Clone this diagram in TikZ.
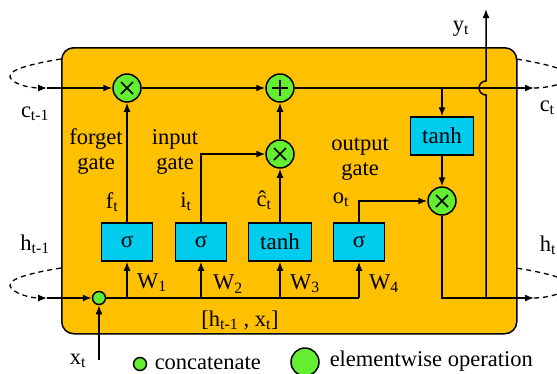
\documentclass[tikz,border=0pt]{standalone}
\usepackage{fontspec}
\setmainfont{Liberation Serif}
\usetikzlibrary{arrows.meta}
\definecolor{boxorange}{RGB}{255,192,0}
\definecolor{gatecyan}{RGB}{0,204,238}
\definecolor{opgreen}{RGB}{100,238,50}
\newcommand{\sbs}[1]{\textsubscript{#1}}
\begin{document}
\begin{tikzpicture}[x=1pt,y=-1pt, line width=1.5pt,
 arr/.style={-{Latex[length=9pt,width=7pt]}},
 gatebox/.style={draw, fill=gatecyan, minimum width=51pt, minimum height=38pt, inner sep=0pt, font=\fontsize{23}{25}\selectfont},
 op/.style={draw, fill=opgreen, circle, minimum size=28pt, inner sep=0pt},
 mul/.style={op, path picture={
   \draw[line width=1.6pt] ([shift={(-6pt,-6pt)}]path picture bounding box.center) -- ([shift={(6pt,6pt)}]path picture bounding box.center);
   \draw[line width=1.6pt] ([shift={(-6pt,6pt)}]path picture bounding box.center) -- ([shift={(6pt,-6pt)}]path picture bounding box.center);}},
 plus/.style={op, path picture={
   \draw[line width=1.6pt] ([shift={(-8pt,0pt)}]path picture bounding box.center) -- ([shift={(8pt,0pt)}]path picture bounding box.center);
   \draw[line width=1.6pt] ([shift={(0pt,-8pt)}]path picture bounding box.center) -- ([shift={(0pt,8pt)}]path picture bounding box.center);}},
 cat/.style={draw, fill=opgreen, circle, minimum size=13pt, inner sep=0pt},
 lbl/.style={font=\fontsize{22.5}{25}\selectfont, inner sep=0pt, align=center},
 loop/.style={line width=1.3pt, dash pattern=on 5pt off 4pt},
]
\useasboundingbox (0,0) rectangle (557,373);
\clip (0,0) rectangle (557,373);
% cell
\node[draw, fill=boxorange, rounded corners=12pt, minimum width=455pt, minimum height=286pt, anchor=north west, inner sep=0pt] (cell) at (61,47) {};
% operators
\node[mul] (fmul) at (127,88) {};
\node[plus] (add) at (280,88) {};
\node[mul] (imul) at (280,154) {};
\node[mul] (omul) at (442,201) {};
\node[cat] (cat) at (99,298) {};
% gate boxes
\node[gatebox] (s1) at (127,242) {σ};
\node[gatebox] (s2) at (201,242) {σ};
\node[gatebox, minimum width=63pt] (t3) at (280,242) {tanh};
\node[gatebox] (s4) at (359,242) {σ};
\node[gatebox, minimum width=63pt] (th) at (442,136) {tanh};
% coordinates
\coordinate (cl1) at (61,59);
\coordinate (cin) at (47,88);
\coordinate (cout) at (534,88);
\coordinate (hl1) at (61,268);
\coordinate (hin) at (47,298);
\coordinate (hout) at (534,298);
\coordinate (hr1) at (516,268);
\coordinate (cr1) at (516,59);
\coordinate (tap) at (442,88);
\coordinate (hend) at (359,298);
\coordinate (yjoin) at (486,298);
\coordinate (ytop) at (486,9);
\coordinate (xin) at (99,360);
% recurrent dashed loops
\draw[loop, -{Latex[length=9pt,width=7pt]}] (cl1) .. controls (30,64) and (8,70) .. (10,77) .. controls (12,84) and (30,88) .. (cin);
\draw[loop, -{Latex[length=9pt,width=7pt]}] (hl1) .. controls (30,273) and (8,279) .. (10,286) .. controls (12,293) and (30,298) .. (hin);
\draw[loop] (cout) .. controls (547,88) and (567,84) .. (569,77) .. controls (571,70) and (547,64) .. (cr1);
\draw[loop] (hout) .. controls (547,298) and (567,293) .. (569,286) .. controls (571,279) and (547,273) .. (hr1);
% cell state line
\draw[arr] (cin) -- (fmul);
\draw[arr] (fmul) -- (add);
\draw[arr] (add) -- (cout);
\draw[arr] (tap) -- (th);
\draw[arr] (th) -- (omul);
% input line
\draw[arr] (hin) -- (cat);
\draw[arr] (xin) -- (cat);
\draw (cat) -- (hend);
\draw[arr] (s1 |- cat) -- (s1);
\draw[arr] (s2 |- cat) -- (s2);
\draw[arr] (t3 |- cat) -- (t3);
\draw[arr] (hend) -- (s4);
% gates
\draw[arr] (s1) -- (fmul);
\draw[arr] (s2.north) |- (imul.west);
\draw[arr] (t3) -- (imul);
\draw[arr] (imul) -- (add);
\draw[arr] (s4.north) |- (omul.west);
% output
\draw[arr] (omul.south) |- (hout);
\draw[arr] (yjoin) -- (486,95) arc[start angle=90, end angle=270, radius=7] -- (ytop);
% labels
\node[lbl] (lc0) at (35,114) {c\sbs{t-1}};
\node[lbl, anchor=west] (lc1) at (539,108) {c\sbs{t}};
\node[lbl] (lh0) at (35,244) {h\sbs{t-1}};
\node[lbl, anchor=west] (lh1) at (539,245) {h\sbs{t}};
\node[lbl] (ly) at (461,29) {y\sbs{t}};
\node[lbl] (lx) at (78,361) {x\sbs{t}};
\node[lbl] (lfg) at (96,152) {forget\\gate};
\node[lbl] (lig) at (175,152) {input\\gate};
\node[lbl] (log) at (360,159) {output\\gate};
\node[lbl] (lf) at (112,202) {f\sbs{t}};
\node[lbl] (li) at (186,202) {i\sbs{t}};
\node[lbl] (lch) at (264,200) {ĉ\sbs{t}};
\node[lbl] (lo) at (341,200) {o\sbs{t}};
\node[lbl] (w1) at (152,283) {W\sbs{1}};
\node[lbl] (w2) at (228,284) {W\sbs{2}};
\node[lbl] (w3) at (305,284) {W\sbs{3}};
\node[lbl] (w4) at (384,284) {W\sbs{4}};
\node[lbl] (lcat) at (240,320) {[h\sbs{t-1} , x\sbs{t}]};
% legend
\node[cat] (legcat) at (140,364) {};
\node[lbl, anchor=west] (legcatt) at (154,363) {concatenate};
\node[op] (legop) at (305,362) {};
\node[lbl, anchor=west] (legopt) at (329,361) {elementwise operation};
\end{tikzpicture}
\end{document}
